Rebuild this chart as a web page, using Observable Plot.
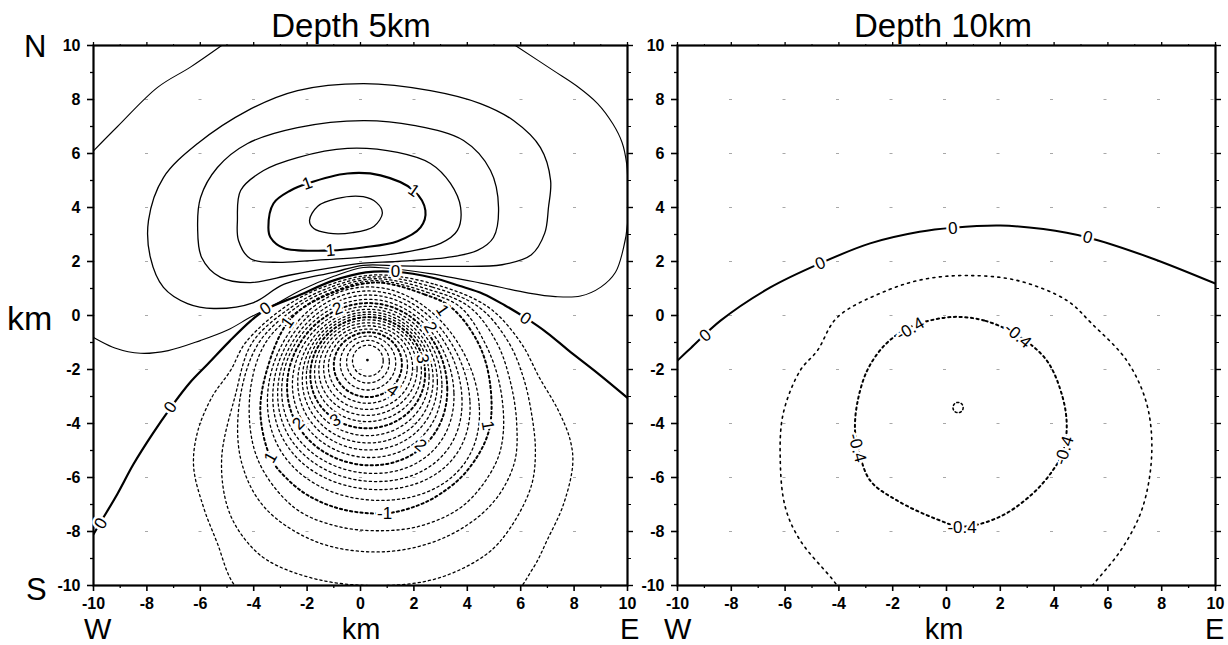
<!DOCTYPE html>
<html><head><meta charset="utf-8">
<script src="https://cdn.jsdelivr.net/npm/d3@7"></script>
<script src="https://cdn.jsdelivr.net/npm/@observablehq/plot@0.6"></script>
<style>
body{margin:0;background:#fff;}
#wrap{position:relative;width:1228px;height:645px;overflow:hidden;font-family:"Liberation Sans",Arial,Helvetica,sans-serif;}
#overlay{position:absolute;left:0;top:0;}
</style></head><body><div id="wrap"></div>
<script>
// ---------- axis ticks ----------
const majorTicks = [-10,-8,-6,-4,-2,0,2,4,6,8,10];
const minorTicks = [-9,-7,-5,-3,-1,1,3,5,7,9];
const gridRows = [-8,-6,-4,-2,0,2,4,6,8];

// ---------- Depth 5 km ----------
// positive contour (0.2) touching the frame: two open pieces
const d5Open02a = [[-10,6.1],[-9.1,7.0],[-7.6,8.45],[-6.37,9.2],[-5.2,10]];
const d5Open02b = [[5.8,10],[7.23,9.07],[8.1,8.5],[8.88,7.85],[9.45,7.1],[9.8,6.4],[9.97,5.6],[10.02,4.5],[10.0,3.4],[9.85,2.5],[9.55,1.6],[9.0,1.05],[8.24,0.72],[7.3,0.7],[6.3,0.83],[4.5,1.2],[2.6,1.55],[1.0,1.75],[0.1,1.78],[-1.0,1.45],[-2.2,0.95],[-3.3,0.35],[-4.1,-0.05],[-5.0,-0.55],[-6.0,-0.93],[-7.2,-1.3],[-8.24,-1.4],[-9.2,-1.2],[-10,-0.81]];
// zero contour
const d5Zero = [[-10,-8.1],[-9.7,-7.6],[-9.1,-6.6],[-8.5,-5.5],[-7.8,-4.4],[-7.1,-3.4],[-6.4,-2.5],[-5.7,-1.78],[-4.9,-0.95],[-4.1,-0.19],[-3.5,0.25],[-2.3,0.75],[-1.0,1.3],[0.2,1.6],[1.3,1.62],[2.7,1.4],[3.7,1.1],[4.6,0.8],[5.4,0.38],[6.2,-0.1],[7.0,-0.65],[7.8,-1.3],[8.9,-2.15],[10,-3.05]];
// closed positive contours 0.4 ... 1.2
const d5Pos04 = [[-7.94,3.52],[-7.38,5.11],[-6.1,6.37],[-4.23,7.59],[-2.36,8.33],[0.11,8.59],[2.62,8.33],[4.49,7.85],[5.73,7.22],[6.74,6.22],[7.12,5.0],[7.04,4.0],[6.9,3.05],[6.4,2.25],[5.3,1.88],[3.4,1.82],[1.5,1.84],[0.1,1.86],[-1.01,1.6],[-2.88,1.15],[-4.0,0.48],[-5.5,0.26],[-6.48,0.44],[-7.38,1.04],[-7.87,2.15]];
const d5Pos06 = [[-6.1,3.26],[-5.99,4.37],[-5.36,5.48],[-4.23,6.37],[-2.36,6.96],[0.11,7.22],[1.99,7.04],[3.86,6.48],[4.87,5.37],[5.17,4.0],[4.98,2.89],[4.38,2.41],[3.26,2.15],[1.39,2.0],[0.1,1.94],[-1.12,1.76],[-2.62,1.5],[-4.12,1.22],[-5.24,1.41],[-5.95,2.15]];
const d5Pos08 = [[-4.61,3.52],[-4.49,4.63],[-3.63,5.37],[-2.36,5.85],[-0.49,6.19],[1.39,6.04],[2.62,5.63],[3.37,4.89],[3.75,4.0],[3.63,3.15],[3.0,2.67],[1.39,2.3],[0.1,2.16],[-1.5,2.06],[-3.0,1.97],[-4.12,2.1],[-4.57,2.78]];
const d5Pos10 = [[-3.45,3.26],[-3.26,4.15],[-2.62,4.63],[-1.99,4.89],[-0.49,5.26],[0.75,5.19],[1.99,4.63],[2.43,3.89],[2.25,3.26],[1.39,2.75],[0.1,2.52],[-1.12,2.41],[-2.88,2.5],[-3.37,2.89]];
const d5Pos12 = [[-1.91,3.52],[-1.6,4.05],[-0.9,4.33],[0.1,4.4],[0.6,4.18],[0.82,3.8],[0.5,3.3],[-0.3,3.07],[-1.2,3.05],[-1.75,3.22]];
// outer negative contours (dashed)
const d5Neg02 = [[0.5,1.5],[2.8,1.15],[4.8,0.3],[6.0,-1.0],[6.7,-2.3],[7.4,-3.5],[7.85,-4.6],[7.95,-5.5],[7.6,-7.0],[7.0,-8.3],[6.48,-9.33],[5.3,-10.8],[1.0,-12.3],[-3.6,-11.0],[-4.76,-9.93],[-5.36,-8.44],[-5.88,-7.1],[-6.25,-5.6],[-6.1,-4.3],[-5.55,-3.0],[-4.87,-2.04],[-4.3,-1.0],[-2.85,0.3],[-1.4,1.05]];
const d5Neg04 = [[0.5,1.43],[2.7,1.05],[4.45,0.3],[5.55,-1.0],[6.1,-2.3],[6.4,-3.6],[6.55,-5.0],[6.4,-6.3],[5.62,-7.85],[4.76,-8.81],[3.0,-9.7],[1.0,-10.0],[-1.5,-9.8],[-3.48,-9.07],[-4.38,-8.22],[-4.98,-7.1],[-5.2,-5.3],[-4.7,-3.0],[-4.05,-1.0],[-2.6,0.3],[-1.3,0.98]];
const d5Neg06 = [[0.5,1.36],[2.6,0.95],[4.1,0.3],[5.1,-1.0],[5.6,-2.4],[5.85,-4.0],[5.75,-5.5],[4.9,-7.0],[3.2,-8.2],[0.9,-8.75],[-1.6,-8.4],[-3.6,-7.1],[-4.49,-5.3],[-4.5,-3.0],[-3.8,-1.0],[-2.4,0.3],[-1.2,0.92]];
const d5Neg08 = [[0.5,1.29],[2.5,0.86],[3.75,0.3],[4.65,-1.0],[5.2,-2.5],[5.35,-4.3],[5.05,-5.5],[3.9,-7.0],[2.4,-7.75],[0.9,-7.97],[-0.9,-7.8],[-2.5,-7.1],[-3.86,-5.3],[-4.15,-3.0],[-3.55,-1.0],[-2.15,0.3],[-1.1,0.86]];
const d5Neg10 = [[0.5,1.22],[2.4,0.78],[3.4,0.3],[4.4,-1.0],[4.85,-2.5],[4.8,-4.3],[4.0,-5.74],[3.0,-6.6],[2.13,-7.04],[1.0,-7.32],[-0.6,-7.2],[-1.9,-6.7],[-2.8,-6.0],[-3.37,-5.26],[-3.75,-3.6],[-3.5,-2.0],[-2.73,-0.26],[-1.7,0.55]];
// inner negative contours: [level, topX, topY, rightX, rightY, bottomX, bottomY, leftX, leftY]
const d5NegInner = [
  [-1.2, 0.3,1.06, 4.45,-3.4, 0.75,-6.85, -3.48,-3.4],
  [-1.4, 0.3,0.91, 4.1,-3.2, 0.68,-6.45, -3.28,-3.2],
  [-1.6, 0.3,0.76, 3.8,-3.05, 0.6,-6.15, -3.1,-3.05],
  [-1.8, 0.3,0.6, 3.5,-2.88, 0.5,-5.85, -2.95,-2.88],
  [-2.0, 0.3,0.46, 3.25,-2.7, 0.4,-5.55, -2.75,-2.7],
  [-2.2, 0.3,0.34, 3.05,-2.58, 0.36,-5.26, -2.55,-2.58],
  [-2.4, 0.3,0.23, 2.88,-2.48, 0.32,-4.98, -2.35,-2.48],
  [-2.6, 0.3,0.13, 2.72,-2.38, 0.3,-4.72, -2.18,-2.38],
  [-2.8, 0.3,0.04, 2.57,-2.28, 0.27,-4.45, -2.03,-2.28],
  [-3.0, 0.3,-0.06, 2.42,-2.18, 0.25,-4.18, -1.88,-2.18],
  [-3.2, 0.3,-0.16, 2.28,-2.08, 0.25,-3.93, -1.72,-2.08],
  [-3.4, 0.3,-0.27, 2.12,-2.0, 0.25,-3.7, -1.56,-2.0],
  [-3.6, 0.3,-0.38, 1.95,-1.94, 0.26,-3.48, -1.38,-1.94],
  [-3.8, 0.3,-0.5, 1.76,-1.88, 0.26,-3.25, -1.2,-1.88],
  [-4.0, 0.3,-0.62, 1.55,-1.82, 0.27,-3.02, -1.0,-1.82],
  [-4.2, 0.28,-0.76, 1.32,-1.76, 0.27,-2.76, -0.76,-1.76],
  [-4.4, 0.28,-0.92, 1.08,-1.72, 0.28,-2.5, -0.52,-1.72],
  [-4.6, 0.28,-1.1, 0.85,-1.68, 0.28,-2.25, -0.3,-1.68]
];
const d5Minimum = [[0.26,-1.65]];
// contour labels: [x, y, text, angle]
const d5Labels = [
  [-9.72,-7.7,"0",-60],[-7.12,-3.4,"0",-55],[-3.56,0.26,"0",-35],[1.31,1.62,"0",0],[6.18,-0.11,"0",35],
  [-1.99,4.89,"1",-20],[1.99,4.63,"1",35],[-1.12,2.41,"1",-5],
  [-2.73,-0.26,"1",-55],[3.07,0.19,"1",55],[-0.86,0.25,"2",-20],[2.62,-0.44,"2",60],
  [2.32,-1.6,"3",80],[1.2,-2.78,"4",35],[-0.94,-3.89,"3",-30],[-2.32,-4.0,"2",-45],
  [-3.37,-5.26,"1",-60],[2.25,-4.81,"2",40],[4.76,-4.07,"1",80],[0.9,-7.32,"-1",0]
];

// ---------- Depth 10 km ----------
const d10Zero = [[-10,-1.67],[-9.5,-1.2],[-8.4,-0.19],[-6.55,1.04],[-4.7,1.93],[-2.84,2.67],[-1.0,3.1],[0.24,3.25],[2.0,3.33],[3.6,3.2],[5.25,2.89],[7.55,2.15],[10,1.18]];
const d10Neg02 = [[0.76,1.48],[2.62,1.3],[4.47,0.56],[5.4,-0.3],[6.7,-1.67],[7.44,-3.26],[7.63,-5.11],[7.29,-7.11],[6.55,-8.59],[5.58,-9.81],[4.5,-11],[0.5,-12.3],[-3.3,-11],[-4.21,-9.81],[-5.44,-8.33],[-5.99,-7.11],[-6.18,-5.37],[-6.07,-3.63],[-5.44,-2.04],[-4.8,-1.3],[-4.06,-0.07],[-2.2,0.93],[-0.8,1.35]];
const d10Neg04 = [[0.4,-0.05],[1.45,-0.2],[2.65,-0.74],[3.73,-1.67],[4.32,-3.04],[4.47,-4.15],[4.32,-5.07],[3.95,-5.74],[3.2,-6.6],[1.99,-7.45],[0.58,-7.82],[-0.35,-7.55],[-1.84,-6.85],[-2.84,-6.11],[-3.28,-4.93],[-3.4,-4.26],[-3.32,-3.26],[-2.95,-2.04],[-2.3,-1.1],[-1.5,-0.5],[-0.6,-0.18]];
const d10Neg06 = [[0.43,-3.22],[0.62,-3.41],[0.43,-3.6],[0.24,-3.41]];
const d10Labels = [
  [-8.96,-0.74,"0",-40],[-4.69,1.93,"0",-22],[0.24,3.22,"0",-4],[5.25,2.89,"0",14],
  [-1.35,-0.5,"-0.4",-30],[2.65,-0.74,"-0.4",40],[4.38,-5.0,"-0.4",-72],[-3.32,-4.9,"-0.4",75],[0.58,-7.85,"-0.4",0]
];

// ---------- helpers ----------
const rows = (pts, id) => pts.map(([x, y]) => ({x, y, id}));
const ringRows = table => table.flatMap(([lv, tx, ty, rx, ry, bx, by, lx, ly]) =>
  [[tx, ty], [rx, ry], [bx, by], [lx, ly]].map(([x, y]) => ({x, y, id: lv, level: lv})));
const labelRows = t => t.map(([x, y, text, a]) => ({x, y, text, a}));
const fmt = d => String(d);
const FONT = "Liberation Sans, Arial, Helvetica, sans-serif";

function frameMarks() {
  return [
    Plot.ruleY(gridRows, {stroke: "#a8a8a8", strokeWidth: 1, strokeDasharray: "3,50.5", strokeDashoffset: 1.5}),
    Plot.frame({stroke: "black", strokeWidth: 2.2}),
    Plot.axisX({anchor: "bottom", ticks: majorTicks, tickSize: 6, tickPadding: 6, tickFormat: fmt, label: null, strokeWidth: 1.6}),
    Plot.axisX({anchor: "bottom", ticks: minorTicks, tickSize: 3, tickFormat: () => "", label: null, strokeWidth: 1.3}),
    Plot.axisX({anchor: "top", ticks: majorTicks, tickSize: 4, tickFormat: () => "", label: null, strokeWidth: 1.3}),
    Plot.axisX({anchor: "top", ticks: minorTicks, tickSize: 2, tickFormat: () => "", label: null}),
    Plot.axisY({anchor: "left", ticks: majorTicks, tickSize: 6, tickPadding: 7, tickFormat: fmt, label: null, strokeWidth: 1.6}),
    Plot.axisY({anchor: "left", ticks: minorTicks, tickSize: 3, tickFormat: () => "", label: null, strokeWidth: 1.3}),
    Plot.axisY({anchor: "right", ticks: majorTicks, tickSize: 5, tickFormat: () => "", label: null, strokeWidth: 1.4}),
    Plot.axisY({anchor: "right", ticks: minorTicks, tickSize: 3, tickFormat: () => "", label: null})
  ];
}
function labelMark(t) {
  return Plot.text(labelRows(t), {x: "x", y: "y", text: "text", rotate: "a", fontSize: 17, fontWeight: "normal", fill: "black", stroke: "white", strokeWidth: 5, fontFamily: FONT});
}
const base = (ml, mr) => ({
  width: ml === 93 ? 640 : 600, height: 645,
  marginLeft: ml, marginRight: mr, marginTop: 45, marginBottom: 60,
  x: {domain: [-10, 10]}, y: {domain: [-10, 10]},
  style: {fontFamily: FONT, fontSize: "16px", fontWeight: "bold", color: "black", overflow: "visible"}
});

// ---------- left plot ----------
const innerBold = d5NegInner.filter(r => [-2, -3, -4].includes(r[0]));
const innerThin = d5NegInner.filter(r => ![-2, -3, -4].includes(r[0]));
const dash = "2.2,3";
const left = Plot.plot({
  ...base(93, 13),
  marks: [
    ...frameMarks(),
    Plot.line([...rows(d5Open02a, "a"), ...rows(d5Open02b, "b")], {x: "x", y: "y", z: "id", curve: "catmull-rom", stroke: "black", strokeWidth: 1.1, clip: true}),
    Plot.line([...rows(d5Pos04, 4), ...rows(d5Pos06, 6), ...rows(d5Pos08, 8), ...rows(d5Pos12, 12)], {x: "x", y: "y", z: "id", curve: "catmull-rom-closed", stroke: "black", strokeWidth: 1.3, clip: true}),
    Plot.line(rows(d5Pos10, 10), {x: "x", y: "y", curve: "catmull-rom-closed", stroke: "black", strokeWidth: 2.1, clip: true}),
    Plot.line([...rows(d5Neg02, 2), ...rows(d5Neg04, 4), ...rows(d5Neg06, 6), ...rows(d5Neg08, 8)], {x: "x", y: "y", z: "id", curve: "catmull-rom-closed", stroke: "black", strokeWidth: 1.3, strokeDasharray: dash, clip: true}),
    Plot.line(rows(d5Neg10, 10), {x: "x", y: "y", curve: "catmull-rom-closed", stroke: "black", strokeWidth: 2, strokeDasharray: dash, clip: true}),
    Plot.line(ringRows(innerThin), {x: "x", y: "y", z: "id", curve: "cardinal-closed", tension: -0.656, stroke: "black", strokeWidth: 1.3, strokeDasharray: dash, clip: true}),
    Plot.line(ringRows(innerBold), {x: "x", y: "y", z: "id", curve: "cardinal-closed", tension: -0.656, stroke: "black", strokeWidth: 2, strokeDasharray: dash, clip: true}),
    Plot.dot(d5Minimum, {x: d => d[0], y: d => d[1], r: 1.4, fill: "black"}),
    Plot.line(rows(d5Zero, 0), {x: "x", y: "y", curve: "catmull-rom", stroke: "black", strokeWidth: 2.2, clip: true}),
    labelMark(d5Labels)
  ]
});

// ---------- right plot ----------
const right = Plot.plot({
  ...base(49, 13),
  marks: [
    ...frameMarks(),
    Plot.line(rows(d10Neg02, 2), {x: "x", y: "y", curve: "catmull-rom-closed", stroke: "black", strokeWidth: 1.6, strokeDasharray: "2,4.5", clip: true}),
    Plot.line(rows(d10Neg04, 4), {x: "x", y: "y", curve: "catmull-rom-closed", stroke: "black", strokeWidth: 2, strokeDasharray: "2.2,3.5", clip: true}),
    Plot.line(rows(d10Neg06, 6), {x: "x", y: "y", curve: "cardinal-closed", tension: -0.656, stroke: "black", strokeWidth: 1.5, strokeDasharray: "2,2.5", clip: true}),
    Plot.line(rows(d10Zero, 0), {x: "x", y: "y", curve: "catmull-rom", stroke: "black", strokeWidth: 2, clip: true}),
    labelMark(d10Labels)
  ]
});

const wrap = document.getElementById("wrap");
for (const [svg, x] of [[left, 0], [right, 628]]) {
  svg.style.position = "absolute";
  svg.style.left = x + "px";
  svg.style.top = "0px";
  wrap.appendChild(svg);
}

// ---------- titles and direction letters ----------
const ns = "http://www.w3.org/2000/svg";
const ov = document.createElementNS(ns, "svg");
ov.setAttribute("id", "overlay");
ov.setAttribute("width", 1228); ov.setAttribute("height", 645);
const texts = [
  ["Depth 5km", 351, 37, 33, "middle"],
  ["Depth 10km", 943, 37, 33, "middle"],
  ["N", 24, 57, 31, "start"],
  ["km", 7, 330, 34, "start"],
  ["S", 26, 600, 31, "start"],
  ["W", 84, 638.5, 29, "start"],
  ["km", 361, 638.5, 29, "middle"],
  ["E", 620, 638.5, 29, "start"],
  ["W", 664, 638.5, 29, "start"],
  ["km", 944, 638.5, 29, "middle"],
  ["E", 1205, 638.5, 29, "start"]
];
for (const [t, x, y, s, a] of texts) {
  const el = document.createElementNS(ns, "text");
  el.setAttribute("x", x); el.setAttribute("y", y);
  el.setAttribute("font-size", s); el.setAttribute("text-anchor", a);
  el.setAttribute("font-family", FONT);
  el.textContent = t;
  ov.appendChild(el);
}
wrap.appendChild(ov);
</script></body></html>
